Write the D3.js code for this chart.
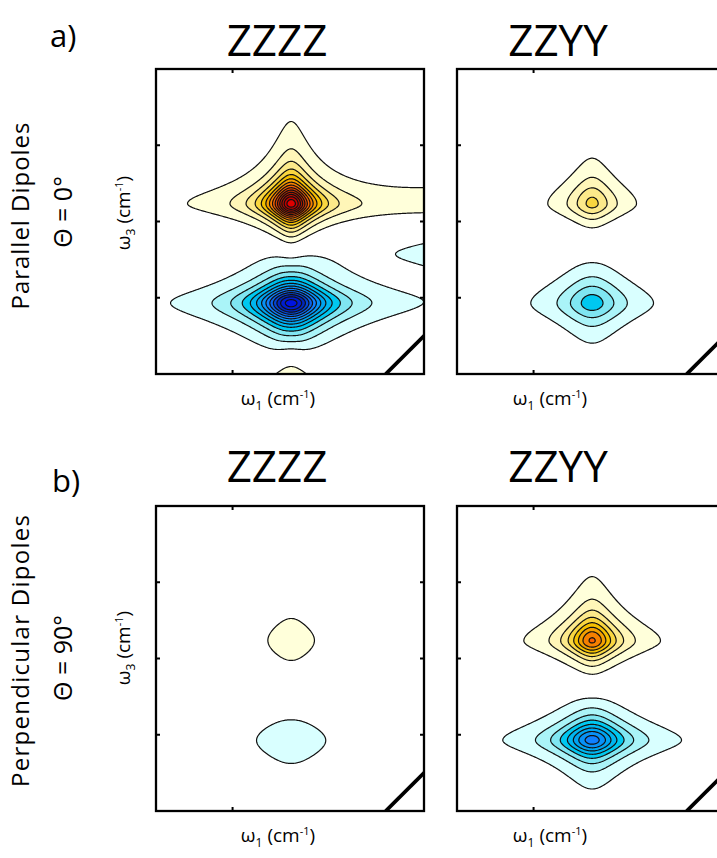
<!DOCTYPE html>
<html>
<head>
<meta charset="utf-8">
<script src="https://cdn.jsdelivr.net/npm/d3@7"></script>
<style>
  body { margin: 0; background: #fff; }
  svg { display: block; font-family: "Open Sans", sans-serif; }
</style>
</head>
<body>
<script>
// axes, cm-1
const w1Domain = [1500, 1570];
const w3Domain = [1560, 1640];
const w1Ticks = [1520];
const w3Ticks = [1580, 1600, 1620];
const levels = d3.range(1, 16);

const panelTitles = ["ZZZZ", "ZZYY", "ZZZZ", "ZZYY"];
const rowLetters = ["a)", "b)"];
const rowNames = ["Parallel Dipoles", "Perpendicular Dipoles"];
const rowAngles = ["\u0398 = 0\u00b0", "\u0398 = 90\u00b0"];

// peaks, one column per peak: panel index, centre, amplitude, widths (cm-1)
const peakPanel = [0, 0, 0, 0, 0, 1, 1, 2, 2, 3, 3];
const peakW1    = [1535.3, 1535.3, 1640, 1600, 1535.3, 1535.3, 1535.3, 1535.3, 1535.3, 1535.3, 1535.3];
const peakW3    = [1604.6, 1578.6, 1604.6, 1592, 1549, 1604.6, 1578.6, 1604.6, 1578.6, 1604.6, 1578.6];
const peakAmp   = [14.6, -14.6, 22, -9, 14.6, 4.65, -4.7, 1.9, -1.95, 8.6, -8.8];
const peakWidth = [3.23, 4.75, 9.5, 7.6, 3.23, 3.8, 4.9, 4.5, 6.1, 3.8, 4.75];
const peakUp    = [3.33, 3.09, 4.18, 3.1, 3.33, 4.1, 4.1, 4.35, 4.35, 3.8, 3.25];
const peakDown  = [2.66, 3.33, 2.85, 3.1, 2.66, 2.65, 3.35, 4.35, 4.35, 2.7, 2.8];

const W = 268, H = 305;
const panelX = [156, 457];
const panelY = [69, 506];

const posColor = d3.scaleLinear()
  .domain([1, 2, 3, 4, 5, 6, 8, 9, 11, 13, 15])
  .range(["#ffffda", "#fff6b8", "#fce98a", "#f9d640", "#f5c000", "#f4a000", "#f86000", "#d84000", "#b01800", "#c00000", "#ff0000"]);
const negColor = d3.scaleLinear()
  .domain([1, 2, 3, 4, 6, 8, 11, 15])
  .range(["#d9ffff", "#aaf4f8", "#7fe6f2", "#00c8f0", "#00a4f0", "#1080ff", "#0028c0", "#0000ff"]);

const x = d3.scaleLinear().domain(w1Domain).range([0, W]);
const y = d3.scaleLinear().domain(w3Domain).range([H, 0]);

// 1D line profile, rounded top and slow tail
function profile(t) {
  let s = Math.sqrt(t * t + 1.44) - 1.2;
  return Math.pow(1 + s / 2, -2);
}

function signal(p, a, b) {
  let v = 0;
  for (let i = 0; i < peakPanel.length; i++) {
    if (peakPanel[i] != p) continue;
    let dy = b - peakW3[i];
    let wy = dy > 0 ? peakUp[i] : peakDown[i];
    v += peakAmp[i] * profile((a - peakW1[i]) / peakWidth[i]) * profile(dy / wy);
  }
  return v;
}

const svg = d3.select("body").append("svg")
  .attr("width", 717)
  .attr("height", 858);

const pad = 3;
const nx = W + 2 * pad, ny = H + 2 * pad;
const path = d3.geoPath(d3.geoIdentity().translate([-pad, -pad]));

for (let p = 0; p < 4; p++) {
  let col = p % 2, row = Math.floor(p / 2);
  let g = svg.append("g").attr("transform", `translate(${panelX[col]},${panelY[row]})`);

  g.append("clipPath").attr("id", "clip" + p)
    .append("rect").attr("width", W).attr("height", H);

  let grid = new Array(nx * ny);
  for (let j = 0; j < ny; j++) {
    for (let i = 0; i < nx; i++) {
      grid[j * nx + i] = signal(p, x.invert(i - pad + 0.5), y.invert(j - pad + 0.5));
    }
  }
  let neg = grid.map(v => -v);
  let contours = d3.contours().size([nx, ny]).thresholds(levels);

  let plot = g.append("g").attr("clip-path", `url(#clip${p})`);
  plot.selectAll("path.pos")
    .data(contours(grid))
    .join("path")
    .attr("class", "pos")
    .attr("d", path)
    .attr("fill", d => posColor(d.value))
    .attr("stroke", "#111")
    .attr("stroke-width", 1.2);
  plot.selectAll("path.neg")
    .data(contours(neg))
    .join("path")
    .attr("class", "neg")
    .attr("d", path)
    .attr("fill", d => negColor(d.value))
    .attr("stroke", "#111")
    .attr("stroke-width", 1.2);

  // diagonal w1 = w3
  plot.append("line")
    .attr("x1", x(1560)).attr("y1", y(1560))
    .attr("x2", x(1580)).attr("y2", y(1580))
    .attr("stroke", "#000")
    .attr("stroke-width", 3.8);

  g.append("rect")
    .attr("width", W).attr("height", H)
    .attr("fill", "none")
    .attr("stroke", "#000")
    .attr("stroke-width", 2.3);

  g.selectAll("line.ty")
    .data(w3Ticks.flatMap(t => [[0, t], [W - 4, t]]))
    .join("line")
    .attr("x1", d => d[0]).attr("x2", d => d[0] + 4)
    .attr("y1", d => y(d[1])).attr("y2", d => y(d[1]))
    .attr("stroke", "#000").attr("stroke-width", 2);
  g.selectAll("line.tx")
    .data(w1Ticks.flatMap(t => [[0, t], [H - 4, t]]))
    .join("line")
    .attr("x1", d => x(d[1])).attr("x2", d => x(d[1]))
    .attr("y1", d => d[0]).attr("y2", d => d[0] + 4)
    .attr("stroke", "#000").attr("stroke-width", 2);
}

// titles and labels
const titleX = [277, 558];
const titleY = [56, 482];
for (let p = 0; p < 4; p++) {
  let col = p % 2, row = Math.floor(p / 2);
  svg.append("text")
    .attr("x", titleX[col]).attr("y", titleY[row])
    .attr("text-anchor", "middle")
    .attr("font-size", 44)
    .text(panelTitles[p]);

  let t = svg.append("text")
    .attr("x", [278, 550][col]).attr("y", [405, 842][row])
    .attr("text-anchor", "middle")
    .attr("font-size", 19);
  t.append("tspan").text("\u03c9");
  t.append("tspan").attr("font-size", 12).attr("dy", 5).text("1");
  t.append("tspan").attr("dy", -5).text(" (cm");
  t.append("tspan").attr("font-size", 11).attr("dy", -7).text("-1");
  t.append("tspan").attr("dy", 7).text(")");
}

for (let r = 0; r < 2; r++) {
  svg.append("text")
    .attr("x", [50, 52][r]).attr("y", [47, 492][r])
    .attr("font-size", 31)
    .text(rowLetters[r]);

  svg.append("text")
    .attr("transform", `translate(29,${[216, 651][r]}) rotate(-90)`)
    .attr("text-anchor", "middle")
    .attr("font-size", 24)
    .attr("textLength", [187, 272][r])
    .text(rowNames[r]);

  svg.append("text")
    .attr("transform", `translate(72,${[212, 658][r]}) rotate(-90)`)
    .attr("text-anchor", "middle")
    .attr("font-size", 25)
    .text(rowAngles[r]);

  let t = svg.append("text")
    .attr("transform", `translate(130,${[213, 648][r]}) rotate(-90)`)
    .attr("text-anchor", "middle")
    .attr("font-size", 19);
  t.append("tspan").text("\u03c9");
  t.append("tspan").attr("font-size", 12).attr("dy", 5).text("3");
  t.append("tspan").attr("dy", -5).text(" (cm");
  t.append("tspan").attr("font-size", 11).attr("dy", -7).text("-1");
  t.append("tspan").attr("dy", 7).text(")");
}
</script>
</body>
</html>
